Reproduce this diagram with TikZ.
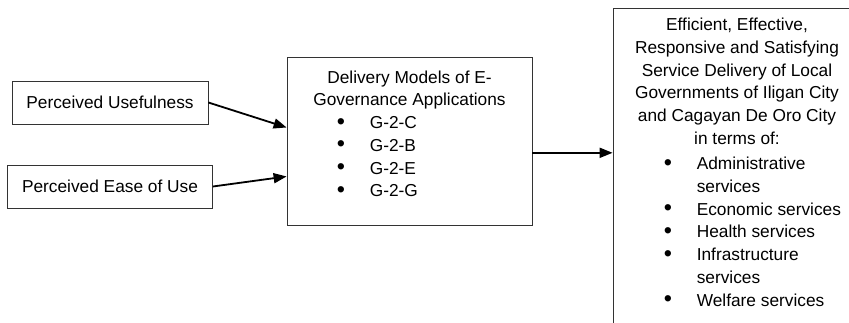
\documentclass[tikz,border=0pt]{standalone}
\usepackage{fontspec}
\setmainfont{Liberation Sans}
\usepackage{tikz}
\usetikzlibrary{positioning,calc,arrows.meta}

\newcommand{\lbul}{\makebox[33pt][l]{\raisebox{-0.6pt}{\scalebox{1.35}{\textbullet}}}}
\newcommand{\lgap}{\hspace*{33pt}}

\begin{document}
\begin{tikzpicture}[x=1pt, y=1pt,
    box/.style={draw=black!80, line width=0.8pt, inner sep=0pt},
    txt/.style={inner sep=0pt, font=\fontsize{17.3}{22.8}\selectfont},
    link/.style={line width=1.8pt, -{Triangle[length=13pt,width=10pt]}}]
  \clip (0,0) rectangle (849,-323);

  % (a) perceptions
  \node[box, txt, minimum width=196pt, minimum height=43pt] (useful) at (110,-102.5) {Perceived Usefulness};
  \node[box, txt, minimum width=205pt, minimum height=43pt] (ease) at (110,-186.5) {Perceived Ease of Use};

  % (b) delivery models
  \node[box, minimum width=245pt, minimum height=168pt] (models) at (409.5,-141) {};
  \node[txt, align=center, anchor=north] (modelsttl) at ($(models.north)+(0,-13.7)$) {Delivery Models of E-\\Governance Applications};
  \node[txt, align=left, anchor=north west] (modelslst) at ($(models.north west)+(50,-59.7)$)
    {\lbul G-2-C\\ \lbul G-2-B\\ \lbul G-2-E\\ \lbul G-2-G};

  % (c) service delivery
  \node[box, minimum width=248pt, minimum height=340pt, anchor=north] (outcome) at (737,-8) {};
  \node[txt, align=center, anchor=north] (outcomettl) at ($(outcome.north)+(0,-9.7)$)
    {Efficient, Effective,\\Responsive and Satisfying\\Service Delivery of Local\\Governments of Iligan City\\and Cagayan De Oro City\\in terms of:};
  \node[txt, align=left, anchor=north west] (outcomelst) at ($(outcome.north west)+(51,-148.7)$)
    {\lbul Administrative\\ \lgap services\\ \lbul Economic services\\ \lbul Health services\\
     \lbul Infrastructure\\ \lgap services\\ \lbul Welfare services};

  % connectors
  \coordinate (modelsin1) at ($(models.north west)!0.42!(models.south west)$);
  \coordinate (modelsin2) at ($(models.north west)!0.71!(models.south west)$);
  \coordinate (modelsout) at ($(models.north east)!0.57!(models.south east)$);
  \draw[link] (useful.east) -- (modelsin1);
  \draw[link] (ease.east) -- (modelsin2);
  \draw[link] (modelsout) -- (modelsout -| outcome.west);
\end{tikzpicture}
\end{document}
